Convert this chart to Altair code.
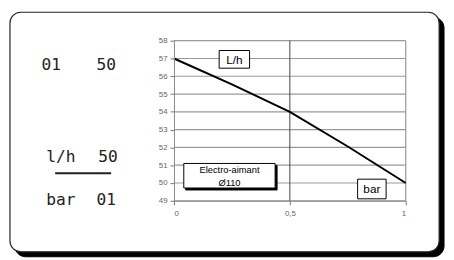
import altair as alt
import pandas as pd

# ---- data ----
pressure_bar = [0, 0.25, 0.5, 0.75, 1]
flow_lh = [57, 55.55, 54, 52.05, 50]
y_ticks = [49, 50, 51, 52, 53, 54, 55, 56, 57, 58]
x_ticks = [0, 0.5, 1]
x_grid_dark = [0.5]
x_grid_light = [1]

W, H = 236, 163
OX, OY = 177, 39  # page position of plot origin


def px(v):
    return v - OX


def py(v):
    return v - OY


one = pd.DataFrame({"a": [0]})
base = alt.Chart(one)


def rect(x1, y1, x2, y2, fill="white", stroke="black", sw=1.0, r=0):
    return base.mark_rect(fill=fill, stroke=stroke, strokeWidth=sw, cornerRadius=r).encode(
        x=alt.value(px(x1)), x2=alt.value(px(x2)), y=alt.value(py(y1)), y2=alt.value(py(y2))
    )


def text(s, x, y, size=11, font="Liberation Sans", align="center", baseline="middle", color="black"):
    return base.mark_text(text=s, fontSize=size, font=font, align=align, baseline=baseline, color=color).encode(
        x=alt.value(px(x)), y=alt.value(py(y))
    )


# outer frame with shadow
frame_shadow = rect(15, 15, 452, 259, fill="black", stroke="black", sw=1, r=11)
frame = rect(10, 10, 447, 254, fill="white", stroke="#222", sw=1.2, r=11)

# left texts
mono = "DejaVu Sans Mono"
t1 = text("01", 42, 69, size=16.5, font=mono, align="left", baseline="alphabetic", color="#222")
t2 = text("50", 98, 69, size=16.5, font=mono, align="left", baseline="alphabetic", color="#222")
t3 = text("l/h", 47, 163, size=16.5, font=mono, align="left", baseline="alphabetic", color="#222")
t4 = text("50", 100, 163, size=16.5, font=mono, align="left", baseline="alphabetic", color="#222")
t5 = text("bar", 47, 206, size=16.5, font=mono, align="left", baseline="alphabetic", color="#222")
t6 = text("01", 98, 206, size=16.5, font=mono, align="left", baseline="alphabetic", color="#222")
underline = base.mark_rule(color="#222", strokeWidth=2).encode(
    x=alt.value(px(56)), x2=alt.value(px(113)), y=alt.value(py(174))
)

# chart
df = pd.DataFrame({"bar": pressure_bar, "lh": flow_lh})
xs = alt.Scale(domain=[0, 1], nice=False)
ys = alt.Scale(domain=[49, 58], nice=False, zero=False)

y_axis = alt.Axis(values=y_ticks, grid=False, tickSize=4, zindex=1, labelOverlap=False,
                  labelPadding=3, labelFontSize=8, labelColor="#666", tickColor="#777",
                  domainColor="#888", labelFont="Liberation Sans", tickCount=10)
x_axis = alt.Axis(values=x_ticks, format="~g", labelExpr="replace(datum.label, '.', ',')",
                  grid=False, tickSize=4, labelPadding=5, labelFontSize=8, labelColor="#666",
                  labelOverlap=False, tickColor="#777", domainColor="#888",
                  labelFont="Liberation Sans", zindex=1)

hgrid = alt.Chart(pd.DataFrame({"g": y_ticks})).mark_rule(color="#999", strokeWidth=1.2).encode(
    y=alt.Y("g:Q", scale=ys, title=None, axis=y_axis)
)
grid_dark = alt.Chart(pd.DataFrame({"g": x_grid_dark})).mark_rule(color="#444", strokeWidth=1).encode(
    x=alt.X("g:Q", scale=xs, title=None, axis=x_axis)
)
grid_light = alt.Chart(pd.DataFrame({"g": x_grid_light})).mark_rule(color="#999", strokeWidth=1.2).encode(
    x=alt.X("g:Q", scale=xs, title=None, axis=x_axis)
)
line = alt.Chart(df).mark_line(color="black", strokeWidth=2).encode(
    x=alt.X("bar:Q", scale=xs, title=None, axis=x_axis),
    y=alt.Y("lh:Q", scale=ys, title=None, axis=y_axis),
)

# boxes in chart
lh_box = rect(223, 49, 254, 67, sw=1)
lh_txt = text("L/h", 238.5, 58.5, size=12)
el_shadow = rect(189, 166, 282, 191, fill="black", stroke="black", sw=1)
el_box = rect(187, 164, 280, 189, sw=1)
el_t1 = text("Electro-aimant", 233.5, 170.5, size=9.5)
el_t2 = text("Ø110", 233.5, 184, size=9.5)
bar_box = rect(364, 180, 393, 200, sw=1)
bar_txt = text("bar", 378.5, 190.5, size=12)

chart = alt.layer(
    frame_shadow, frame, t1, t2, t3, t4, t5, t6, underline,
    hgrid, grid_light, grid_dark, line,
    lh_box, lh_txt, el_shadow, el_box, el_t1, el_t2, bar_box, bar_txt,
).properties(
    width=W, height=H,
    autosize=alt.AutoSizeParams(type="none"),
    padding={"left": OX - 8, "top": OY - 8, "right": 446 - (OX - 8) - W, "bottom": 252 - (OY - 8) - H},
).configure_view(stroke=None).configure(background="white")

chart.save("out.html", embed_options={"renderer": "svg", "actions": False})
